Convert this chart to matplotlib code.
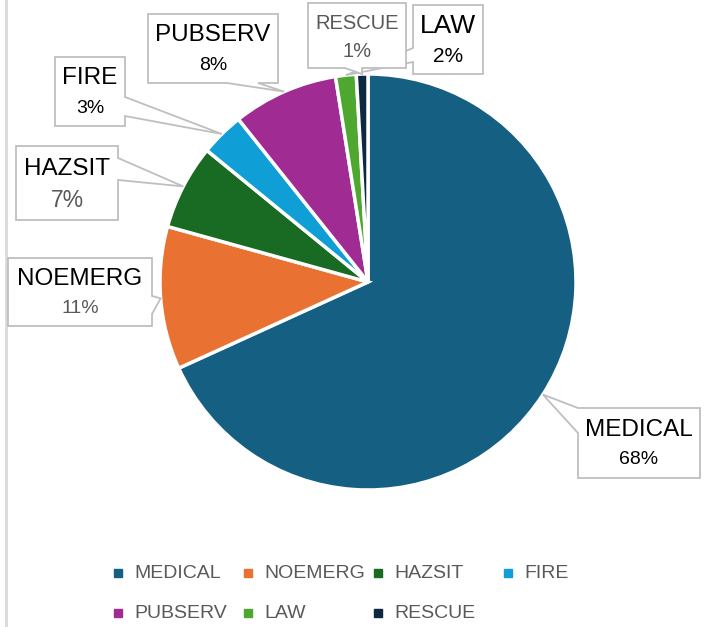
import numpy as np
import matplotlib.pyplot as plt
from matplotlib.patches import Polygon

plt.rcParams['font.family'] = ['Liberation Sans', 'DejaVu Sans']

# ------------- data -------------
labels = ['MEDICAL', 'NOEMERG', 'HAZSIT', 'FIRE', 'PUBSERV', 'LAW', 'RESCUE']
values = [68.2, 11.1, 6.6, 3.4, 8.2, 1.6, 0.9]
colors = ['#156082', '#E97132', '#196B24', '#0F9ED5', '#A02B93', '#4EA72E', '#0E2841']

# callout layout in pixel coords (y down): box, pointer side, pointer base
callouts = {
    'MEDICAL': dict(box=(578, 408, 700, 478), side='left', base=(408, 433),
                    nsize=17.5, ncol='black', psize=14, pcol='black'),
    'NOEMERG': dict(box=(8, 258, 152, 326), side='right', base=(296, 314),
                    nsize=17.5, ncol='black', psize=14, pcol='#595959'),
    'HAZSIT': dict(box=(16, 146, 118, 220), side='right', base=(158, 180),
                   nsize=17.5, ncol='black', psize=16.5, pcol='#595959'),
    'FIRE': dict(box=(55, 57, 125, 126), side='right', base=(97, 116),
                 nsize=17.5, ncol='black', psize=14, pcol='black'),
    'PUBSERV': dict(box=(148, 14, 278, 83), side='bottom', base=(227, 258),
                    nsize=17.5, ncol='black', psize=14, pcol='black'),
    'LAW': dict(box=(413, 5, 483, 74), side='left', base=(48, 62),
                nsize=19, ncol='black', psize=15, pcol='black'),
    'RESCUE': dict(box=(308, 3, 406, 68), side='bottom', base=(345, 362),
                   nsize=14.5, ncol='#595959', psize=14.5, pcol='#595959'),
}

W, H = 711, 627
cx, cy, R = 368, 282, 208

fig = plt.figure(figsize=(W / 100, H / 100), dpi=100)
ax = fig.add_axes([0, 0, 1, 1])

wedges, _ = ax.pie(values, colors=colors, center=(cx, cy), radius=R,
                   startangle=-90, counterclock=True,
                   wedgeprops=dict(edgecolor='white', linewidth=2.5))
ax.set_xlim(0, W)
ax.set_ylim(H, 0)
ax.set_aspect('equal')
ax.axis('off')

total = sum(values)


def outline(box, side, base, tip):
    x0, y0, x1, y1 = box
    a, b = base
    pts = [(x0, y0)]
    if side == 'top':
        pts += [(a, y0), tip, (b, y0)]
    pts.append((x1, y0))
    if side == 'right':
        pts += [(x1, a), tip, (x1, b)]
    pts.append((x1, y1))
    if side == 'bottom':
        pts += [(b, y1), tip, (a, y1)]
    pts.append((x0, y1))
    if side == 'left':
        pts += [(x0, b), tip, (x0, a)]
    return pts


for w, name, v in zip(wedges, labels, values):
    c = callouts[name]
    mid = np.deg2rad((w.theta1 + w.theta2) / 2)
    tip = (cx + R * np.cos(mid), cy + R * np.sin(mid))
    poly = Polygon(outline(c['box'], c['side'], c['base'], tip), closed=True,
                   facecolor='white', edgecolor='#bfbfbf', linewidth=1.3, zorder=5)
    ax.add_patch(poly)
    x0, y0, x1, y1 = c['box']
    h = y1 - y0
    xm = (x0 + x1) / 2
    ax.text(xm, y0 + 0.31 * h, name, ha='center', va='center',
            fontsize=c['nsize'], color=c['ncol'], zorder=6)
    ax.text(xm, y0 + 0.74 * h, f"{round(v / total * 100):.0f}%", ha='center', va='center',
            fontsize=c['psize'], color=c['pcol'], zorder=6)

# legend, 4 per row
for i, (name, col) in enumerate(zip(labels, colors)):
    row, k = divmod(i, 4)
    lx = 118 + 130 * k
    ly = 573 + 40 * row
    ax.plot(lx, ly, marker='s', markersize=6, color=col, linestyle='none')
    ax.text(lx + 16, ly, name, ha='left', va='center', fontsize=14, color='#595959')

# left border line
ax.plot([6, 6], [0, H], color='#d9d9d9', linewidth=2)

fig.savefig('out.png', dpi=100)
